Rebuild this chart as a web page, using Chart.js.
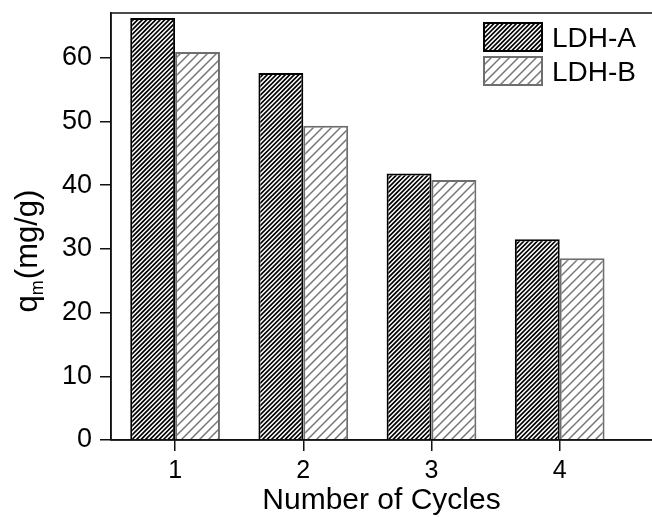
<!DOCTYPE html>
<html><head><meta charset="utf-8">
<script src="https://cdn.jsdelivr.net/npm/chart.js@4/dist/chart.umd.min.js"></script>
<style>html,body{margin:0;padding:0;background:#fff;overflow:hidden}</style>
</head><body>
<canvas id="c" width="652" height="517"></canvas>
<script>
// ---- data ----
const cycles = [1, 2, 3, 4];
const ldhA = [66.2, 57.6, 41.8, 31.5];
const ldhB = [60.9, 49.3, 40.8, 28.5];
const yTicks = [0, 10, 20, 30, 40, 50, 60];
const seriesNames = ['LDH-A', 'LDH-B'];
const xTitle = 'Number of Cycles';
const yTitleMain = 'q';
const yTitleSub = 'm';
const yTitleRest = '(mg/g)';

const FONT = "'Liberation Sans', Arial, sans-serif";

function hatch(spacing, color, lw) {
  const N = 36;
  const c = document.createElement('canvas');
  c.width = N; c.height = N;
  const g = c.getContext('2d');
  g.fillStyle = '#fff'; g.fillRect(0, 0, N, N);
  g.strokeStyle = color; g.lineWidth = lw;
  g.beginPath();
  for (let k = -2; k * spacing <= 2 * N + 2 * spacing; k++) {
    const s = k * spacing;
    g.moveTo(s + 2, -2);
    g.lineTo(s - N - 2, N + 2);
  }
  g.stroke();
  return g.createPattern(c, 'repeat');
}
const ctx = document.getElementById('c').getContext('2d');
const patA = hatch(4.5, '#000', 1.6);
const patB = hatch(9, '#777', 1.5);
const fills = [patA, patB];
const borders = ['#000', '#6e6e6e'];

const framePlugin = {
  id: 'frame',
  afterDatasetsDraw(chart) {
    const a = chart.chartArea, c = chart.ctx;
    c.save();
    c.strokeStyle = '#111'; c.lineWidth = 1.5;
    c.beginPath();
    c.moveTo(a.left, a.top); c.lineTo(a.right, a.top);
    c.moveTo(a.left, a.bottom); c.lineTo(a.right, a.bottom);
    c.moveTo(a.left, a.top); c.lineTo(a.left, a.bottom);
    c.stroke();
    // legend
    chart.data.datasets.forEach((ds, i) => {
      const x = 483, y = 22 + i * 34, w = 60, h = 30;
      c.fillStyle = fills[i];
      c.fillRect(x, y, w, h);
      c.strokeStyle = borders[i]; c.lineWidth = 2;
      c.strokeRect(x + 1, y + 1, w - 2, h - 2);
      c.fillStyle = '#000';
      c.font = '28px ' + FONT;
      c.textBaseline = 'alphabetic'; c.textAlign = 'left';
      c.fillText(ds.label, 552, y + 25);
    });
    // y title with subscript
    c.save();
    c.translate(37, 251.5);
    c.rotate(-Math.PI / 2);
    c.fillStyle = '#000';
    c.textBaseline = 'alphabetic'; c.textAlign = 'left';
    const fMain = '31px ' + FONT, fSub = '18px ' + FONT;
    c.font = fMain; const w1 = c.measureText(yTitleMain).width; const w3 = c.measureText(yTitleRest).width;
    c.font = fSub; const w2 = c.measureText(yTitleSub).width;
    let x0 = -(w1 + w2 + w3) / 2;
    c.font = fMain; c.fillText(yTitleMain, x0, 0);
    c.font = fSub; c.fillText(yTitleSub, x0 + w1, 6);
    c.font = fMain; c.fillText(yTitleRest, x0 + w1 + w2 + 1, 0);
    c.restore();
    c.restore();
  }
};

function noPad(s) { s.paddingTop = 0; s.paddingBottom = 0; s.paddingLeft = 0; s.paddingRight = 0; }

new Chart(ctx, {
  type: 'bar',
  data: {
    datasets: [
      { label: seriesNames[0], data: cycles.map((v, i) => ({ x: v, y: ldhA[i] })),
        backgroundColor: patA, borderColor: borders[0], borderWidth: 2,
        categoryPercentage: 0.7, barPercentage: 1 },
      { label: seriesNames[1], data: cycles.map((v, i) => ({ x: v, y: ldhB[i] })),
        backgroundColor: patB, borderColor: borders[1], borderWidth: 2,
        categoryPercentage: 0.7, barPercentage: 1 }
    ]
  },
  options: {
    responsive: false,
    animation: false,
    layout: { padding: { top: 13, left: 0, right: 0, bottom: 0 } },
    plugins: { legend: { display: false }, tooltip: { enabled: false } },
    scales: {
      x: {
        type: 'linear', min: 0.5, max: 4.72, offset: false,
        afterBuildTicks: s => { s.ticks = cycles.map(v => ({ value: v })); },
        afterFit: s => { s.height = 77; noPad(s); },
        grid: { offset: false, drawOnChartArea: false, drawTicks: true, tickLength: 11, color: '#111', lineWidth: 1.5 },
        border: { display: true, color: '#111', width: 1.5 },
        ticks: { font: { family: FONT, size: 25 }, color: '#000', padding: 5, maxRotation: 0, autoSkip: false },
        title: { display: true, text: xTitle, font: { family: FONT, size: 30 }, color: '#000', padding: { top: 0, bottom: -2 } }
      },
      y: {
        min: 0, max: 67,
        afterBuildTicks: s => { s.ticks = yTicks.map(v => ({ value: v })); },
        afterFit: s => { s.width = 111; noPad(s); },
        grid: { drawOnChartArea: false, drawTicks: true, tickLength: 11, color: '#111', lineWidth: 1.5 },
        border: { display: true, color: '#111', width: 1.5 },
        ticks: { font: { family: FONT, size: 27 }, color: '#000', padding: 8 }
      }
    }
  },
  plugins: [framePlugin]
});
</script>
</body></html>
